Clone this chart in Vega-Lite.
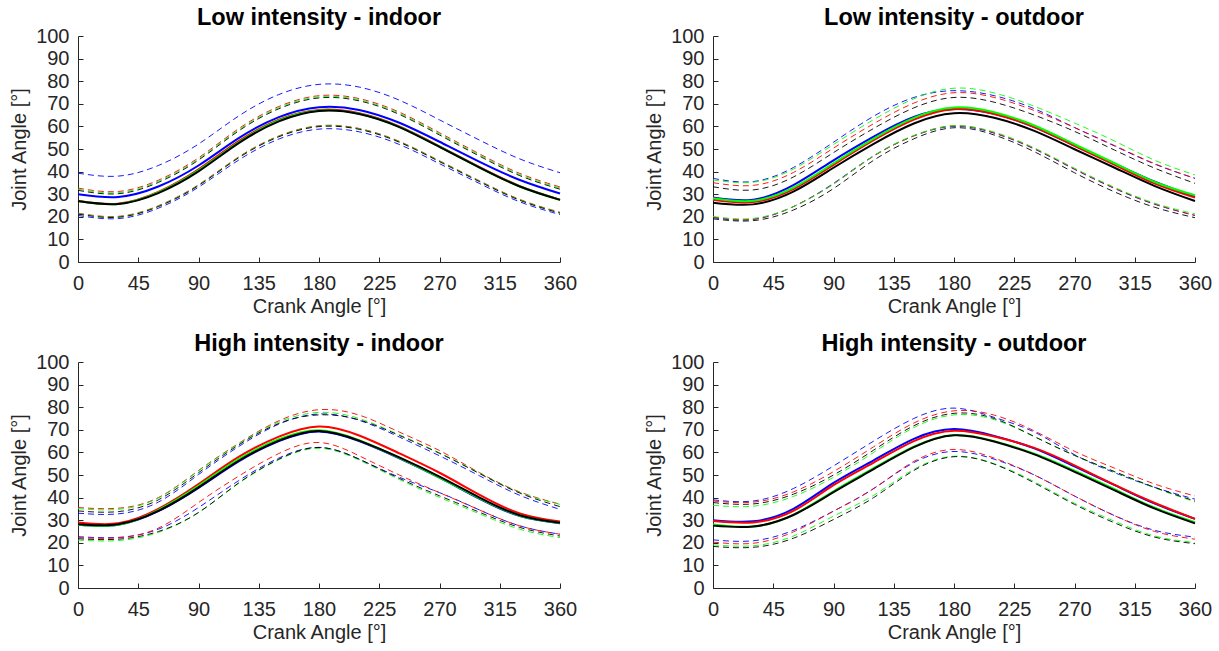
{
"$schema": "https://vega.github.io/schema/vega-lite/v6.json",
"background": "white",
"padding": {"left": 9, "top": 5, "right": 2, "bottom": 2},
"bounds": "flush",
"columns": 2,
"spacing": {"row": 100, "column": 153},
"config": {
  "view": {"stroke": null},
  "font": "Liberation Sans",
  "axis": {"grid": false, "domainColor": "#262626", "tickColor": "#262626", "labelColor": "#262626", "titleColor": "#262626", "labelFont": "Liberation Sans", "titleFont": "Liberation Sans", "labelFontSize": 20, "titleFontSize": 20, "titleFontWeight": "normal", "tickSize": -5, "domainWidth": 1, "tickWidth": 1, "labelOverlap": false, "labelFlush": false},
  "axisX": {"labelPadding": 16, "titlePadding": 3},
  "axisY": {"labelPadding": 14, "titlePadding": 6},
  "title": {"fontSize": 23.5, "fontWeight": "bold", "color": "#000000", "font": "Liberation Sans", "offset": -3}
},
"datasets": {
"li": [
{"c":"blue","a":0,"m":30.0,"u":39.3,"l":20.6},{"c":"blue","a":30,"m":28.8,"u":38.0,"l":19.2},{"c":"blue","a":60,"m":33.4,"u":42.7,"l":23.8},{"c":"blue","a":90,"m":42.7,"u":52.2,"l":33.1},{"c":"blue","a":120,"m":54.8,"u":64.6,"l":45.1},{"c":"blue","a":150,"m":64.1,"u":74.1,"l":54.4},{"c":"blue","a":180,"m":68.5,"u":78.6,"l":58.8},{"c":"blue","a":210,"m":67.3,"u":77.4,"l":57.6},{"c":"blue","a":240,"m":61.6,"u":71.6,"l":52.0},{"c":"blue","a":270,"m":53.2,"u":62.9,"l":43.5},{"c":"blue","a":300,"m":44.3,"u":53.9,"l":34.7},{"c":"blue","a":330,"m":36.3,"u":45.6,"l":26.6},{"c":"blue","a":360,"m":30.3,"u":39.5,"l":21.0},
{"c":"red","a":0,"m":27.0,"u":32.7,"l":21.6},{"c":"red","a":30,"m":25.8,"u":31.2,"l":20.2},{"c":"red","a":60,"m":31.0,"u":36.2,"l":24.9},{"c":"red","a":90,"m":41.0,"u":46.1,"l":34.2},{"c":"red","a":120,"m":53.5,"u":59.0,"l":46.5},{"c":"red","a":150,"m":63.0,"u":68.8,"l":55.8},{"c":"red","a":180,"m":67.3,"u":73.6,"l":60.3},{"c":"red","a":210,"m":65.8,"u":72.3,"l":59.1},{"c":"red","a":240,"m":60.0,"u":66.3,"l":53.4},{"c":"red","a":270,"m":51.2,"u":57.2,"l":44.8},{"c":"red","a":300,"m":42.0,"u":47.8,"l":35.9},{"c":"red","a":330,"m":33.6,"u":39.2,"l":27.7},{"c":"red","a":360,"m":27.6,"u":33.2,"l":22.0},
{"c":"green","a":0,"m":27.0,"u":32.2,"l":21.4},{"c":"green","a":30,"m":25.7,"u":30.7,"l":20.0},{"c":"green","a":60,"m":30.8,"u":35.7,"l":24.7},{"c":"green","a":90,"m":40.6,"u":45.6,"l":34.0},{"c":"green","a":120,"m":53.0,"u":58.5,"l":46.3},{"c":"green","a":150,"m":62.6,"u":68.3,"l":55.6},{"c":"green","a":180,"m":67.0,"u":73.1,"l":60.1},{"c":"green","a":210,"m":65.6,"u":71.8,"l":58.9},{"c":"green","a":240,"m":59.8,"u":65.8,"l":53.2},{"c":"green","a":270,"m":51.0,"u":56.7,"l":44.6},{"c":"green","a":300,"m":41.8,"u":47.3,"l":35.7},{"c":"green","a":330,"m":33.4,"u":38.7,"l":27.5},{"c":"green","a":360,"m":27.5,"u":32.7,"l":21.8},
{"c":"black","a":0,"m":27.0,"u":31.7,"l":21.2},{"c":"black","a":30,"m":25.7,"u":30.2,"l":19.8},{"c":"black","a":60,"m":30.5,"u":35.2,"l":24.5},{"c":"black","a":90,"m":40.1,"u":45.1,"l":33.8},{"c":"black","a":120,"m":52.6,"u":58.0,"l":46.1},{"c":"black","a":150,"m":62.2,"u":67.8,"l":55.4},{"c":"black","a":180,"m":66.8,"u":72.6,"l":59.9},{"c":"black","a":210,"m":65.5,"u":71.3,"l":58.7},{"c":"black","a":240,"m":59.7,"u":65.3,"l":53.0},{"c":"black","a":270,"m":50.9,"u":56.2,"l":44.4},{"c":"black","a":300,"m":41.8,"u":46.8,"l":35.5},{"c":"black","a":330,"m":33.4,"u":38.2,"l":27.3},{"c":"black","a":360,"m":27.5,"u":32.2,"l":21.6}
],
"lo": [
{"c":"blue","a":0,"m":28.5,"u":37.0,"l":19.6},{"c":"blue","a":30,"m":27.6,"u":35.6,"l":18.8},{"c":"blue","a":60,"m":34.0,"u":41.8,"l":24.5},{"c":"blue","a":90,"m":45.0,"u":53.0,"l":34.8},{"c":"blue","a":120,"m":55.5,"u":64.5,"l":47.0},{"c":"blue","a":150,"m":64.2,"u":72.8,"l":55.8},{"c":"blue","a":180,"m":67.7,"u":75.8,"l":60.0},{"c":"blue","a":210,"m":65.6,"u":73.6,"l":57.0},{"c":"blue","a":240,"m":59.7,"u":67.8,"l":50.0},{"c":"blue","a":270,"m":51.5,"u":59.5,"l":41.0},{"c":"blue","a":300,"m":43.5,"u":51.3,"l":32.5},{"c":"blue","a":330,"m":35.5,"u":43.3,"l":25.5},{"c":"blue","a":360,"m":28.9,"u":37.0,"l":20.6},
{"c":"red","a":0,"m":27.5,"u":35.1,"l":19.9},{"c":"red","a":30,"m":26.5,"u":33.9,"l":19.0},{"c":"red","a":60,"m":32.2,"u":39.6,"l":24.5},{"c":"red","a":90,"m":43.0,"u":50.4,"l":34.5},{"c":"red","a":120,"m":53.9,"u":61.2,"l":46.8},{"c":"red","a":150,"m":63.0,"u":70.3,"l":55.8},{"c":"red","a":180,"m":67.6,"u":74.9,"l":60.3},{"c":"red","a":210,"m":65.5,"u":72.8,"l":57.2},{"c":"red","a":240,"m":59.7,"u":67.0,"l":50.2},{"c":"red","a":270,"m":51.4,"u":59.5,"l":41.2},{"c":"red","a":300,"m":43.0,"u":51.5,"l":32.7},{"c":"red","a":330,"m":34.7,"u":43.5,"l":25.7},{"c":"red","a":360,"m":28.5,"u":37.0,"l":20.6},
{"c":"green","a":0,"m":28.2,"u":36.3,"l":20.1},{"c":"green","a":30,"m":27.1,"u":35.3,"l":19.3},{"c":"green","a":60,"m":32.9,"u":41.1,"l":24.5},{"c":"green","a":90,"m":43.7,"u":52.0,"l":34.5},{"c":"green","a":120,"m":54.6,"u":63.0,"l":47.0},{"c":"green","a":150,"m":63.8,"u":72.2,"l":56.0},{"c":"green","a":180,"m":68.4,"u":76.9,"l":60.3},{"c":"green","a":210,"m":66.3,"u":74.8,"l":57.5},{"c":"green","a":240,"m":60.4,"u":68.9,"l":50.5},{"c":"green","a":270,"m":52.1,"u":61.5,"l":41.5},{"c":"green","a":300,"m":43.7,"u":53.5,"l":33.0},{"c":"green","a":330,"m":35.4,"u":45.0,"l":26.0},{"c":"green","a":360,"m":29.5,"u":38.5,"l":21.3},
{"c":"black","a":0,"m":26.2,"u":33.3,"l":19.1},{"c":"black","a":30,"m":25.5,"u":31.9,"l":18.3},{"c":"black","a":60,"m":31.1,"u":37.6,"l":23.0},{"c":"black","a":90,"m":41.7,"u":48.4,"l":32.5},{"c":"black","a":120,"m":52.3,"u":59.1,"l":45.0},{"c":"black","a":150,"m":61.3,"u":68.2,"l":54.5},{"c":"black","a":180,"m":65.8,"u":72.8,"l":59.4},{"c":"black","a":210,"m":63.8,"u":70.7,"l":56.2},{"c":"black","a":240,"m":58.0,"u":65.0,"l":48.8},{"c":"black","a":270,"m":49.9,"u":57.8,"l":39.5},{"c":"black","a":300,"m":41.7,"u":49.5,"l":31.0},{"c":"black","a":330,"m":33.6,"u":41.5,"l":24.2},{"c":"black","a":360,"m":27.0,"u":34.8,"l":19.6}
],
"hi": [
{"c":"blue","a":0,"m":28.0,"u":33.1,"l":22.7},{"c":"blue","a":30,"m":28.0,"u":32.8,"l":22.4},{"c":"blue","a":60,"m":34.0,"u":38.0,"l":26.0},{"c":"blue","a":90,"m":44.3,"u":50.2,"l":35.6},{"c":"blue","a":120,"m":56.0,"u":62.6,"l":47.5},{"c":"blue","a":150,"m":65.0,"u":72.5,"l":57.5},{"c":"blue","a":180,"m":69.3,"u":77.0,"l":62.2},{"c":"blue","a":210,"m":65.0,"u":74.2,"l":57.0},{"c":"blue","a":240,"m":57.4,"u":66.8,"l":49.0},{"c":"blue","a":270,"m":48.8,"u":58.5,"l":42.2},{"c":"blue","a":300,"m":39.4,"u":49.6,"l":34.5},{"c":"blue","a":330,"m":31.8,"u":41.0,"l":27.5},{"c":"blue","a":360,"m":28.7,"u":34.8,"l":23.8},
{"c":"red","a":0,"m":29.0,"u":35.6,"l":22.3},{"c":"red","a":30,"m":28.6,"u":35.3,"l":22.2},{"c":"red","a":60,"m":35.0,"u":40.0,"l":26.5},{"c":"red","a":90,"m":46.0,"u":52.0,"l":37.8},{"c":"red","a":120,"m":58.0,"u":64.0,"l":49.5},{"c":"red","a":150,"m":67.0,"u":74.0,"l":59.5},{"c":"red","a":180,"m":71.5,"u":78.9,"l":64.4},{"c":"red","a":210,"m":67.5,"u":76.5,"l":58.5},{"c":"red","a":240,"m":59.6,"u":69.0,"l":50.0},{"c":"red","a":270,"m":51.0,"u":60.8,"l":42.2},{"c":"red","a":300,"m":41.2,"u":51.0,"l":34.5},{"c":"red","a":330,"m":33.0,"u":42.5,"l":27.5},{"c":"red","a":360,"m":29.4,"u":37.1,"l":23.8},
{"c":"green","a":0,"m":28.0,"u":35.1,"l":21.2},{"c":"green","a":30,"m":28.0,"u":34.8,"l":21.0},{"c":"green","a":60,"m":34.5,"u":39.8,"l":24.6},{"c":"green","a":90,"m":45.2,"u":51.8,"l":33.4},{"c":"green","a":120,"m":57.0,"u":63.8,"l":46.3},{"c":"green","a":150,"m":65.8,"u":73.4,"l":56.8},{"c":"green","a":180,"m":69.8,"u":77.7,"l":61.8},{"c":"green","a":210,"m":65.4,"u":75.0,"l":56.6},{"c":"green","a":240,"m":57.6,"u":67.8,"l":48.0},{"c":"green","a":270,"m":48.9,"u":59.8,"l":40.1},{"c":"green","a":300,"m":39.7,"u":50.8,"l":32.8},{"c":"green","a":330,"m":32.0,"u":42.3,"l":26.0},{"c":"green","a":360,"m":28.8,"u":37.0,"l":22.3},
{"c":"black","a":0,"m":28.2,"u":34.1,"l":21.8},{"c":"black","a":30,"m":28.2,"u":33.8,"l":21.6},{"c":"black","a":60,"m":34.1,"u":39.0,"l":25.0},{"c":"black","a":90,"m":44.5,"u":51.0,"l":33.4},{"c":"black","a":120,"m":56.3,"u":63.3,"l":46.5},{"c":"black","a":150,"m":65.2,"u":72.8,"l":57.0},{"c":"black","a":180,"m":69.5,"u":76.6,"l":62.2},{"c":"black","a":210,"m":65.2,"u":74.4,"l":57.0},{"c":"black","a":240,"m":57.8,"u":67.5,"l":48.5},{"c":"black","a":270,"m":49.3,"u":59.6,"l":40.8},{"c":"black","a":300,"m":40.0,"u":50.6,"l":33.5},{"c":"black","a":330,"m":32.2,"u":42.0,"l":26.8},{"c":"black","a":360,"m":28.9,"u":36.0,"l":23.0}
],
"ho": [
{"c":"blue","a":0,"m":30.0,"u":39.0,"l":21.3},{"c":"blue","a":30,"m":29.5,"u":38.5,"l":20.9},{"c":"blue","a":60,"m":35.0,"u":44.0,"l":25.5},{"c":"blue","a":90,"m":46.5,"u":54.0,"l":34.0},{"c":"blue","a":120,"m":56.5,"u":65.0,"l":44.0},{"c":"blue","a":150,"m":66.0,"u":75.0,"l":55.5},{"c":"blue","a":180,"m":70.3,"u":79.6,"l":60.4},{"c":"blue","a":210,"m":67.3,"u":75.5,"l":57.0},{"c":"blue","a":240,"m":61.8,"u":69.0,"l":50.0},{"c":"blue","a":270,"m":53.8,"u":59.0,"l":40.7},{"c":"blue","a":300,"m":45.5,"u":51.0,"l":32.0},{"c":"blue","a":330,"m":37.3,"u":44.5,"l":25.5},{"c":"blue","a":360,"m":30.6,"u":39.3,"l":22.5},
{"c":"red","a":0,"m":29.6,"u":38.5,"l":20.3},{"c":"red","a":30,"m":29.0,"u":38.0,"l":19.8},{"c":"red","a":60,"m":34.1,"u":42.5,"l":24.8},{"c":"red","a":90,"m":45.5,"u":51.5,"l":34.0},{"c":"red","a":120,"m":55.5,"u":62.5,"l":44.0},{"c":"red","a":150,"m":65.0,"u":73.0,"l":56.0},{"c":"red","a":180,"m":69.6,"u":78.4,"l":61.3},{"c":"red","a":210,"m":67.0,"u":76.5,"l":57.5},{"c":"red","a":240,"m":62.0,"u":69.5,"l":50.0},{"c":"red","a":270,"m":54.3,"u":60.5,"l":40.7},{"c":"red","a":300,"m":45.6,"u":53.0,"l":32.0},{"c":"red","a":330,"m":37.6,"u":46.0,"l":25.0},{"c":"red","a":360,"m":30.6,"u":40.7,"l":21.6},
{"c":"green","a":0,"m":28.1,"u":36.6,"l":19.1},{"c":"green","a":30,"m":27.2,"u":36.2,"l":18.7},{"c":"green","a":60,"m":32.4,"u":40.5,"l":23.0},{"c":"green","a":90,"m":42.8,"u":49.0,"l":31.8},{"c":"green","a":120,"m":53.0,"u":60.0,"l":41.0},{"c":"green","a":150,"m":62.5,"u":71.0,"l":52.5},{"c":"green","a":180,"m":67.7,"u":76.6,"l":58.3},{"c":"green","a":210,"m":65.0,"u":74.5,"l":55.0},{"c":"green","a":240,"m":59.4,"u":67.0,"l":47.0},{"c":"green","a":270,"m":51.9,"u":58.7,"l":37.5},{"c":"green","a":300,"m":43.7,"u":51.3,"l":29.5},{"c":"green","a":330,"m":35.5,"u":44.3,"l":23.0},{"c":"green","a":360,"m":29.1,"u":38.1,"l":20.1},
{"c":"black","a":0,"m":27.6,"u":37.8,"l":18.4},{"c":"black","a":30,"m":27.2,"u":37.2,"l":18.0},{"c":"black","a":60,"m":32.3,"u":41.5,"l":22.0},{"c":"black","a":90,"m":42.4,"u":50.0,"l":30.3},{"c":"black","a":120,"m":52.6,"u":61.0,"l":40.0},{"c":"black","a":150,"m":62.3,"u":71.8,"l":52.0},{"c":"black","a":180,"m":67.6,"u":77.3,"l":58.1},{"c":"black","a":210,"m":64.8,"u":75.0,"l":54.8},{"c":"black","a":240,"m":59.1,"u":67.0,"l":46.5},{"c":"black","a":270,"m":51.4,"u":58.7,"l":37.0},{"c":"black","a":300,"m":43.2,"u":51.5,"l":28.8},{"c":"black","a":330,"m":35.1,"u":44.5,"l":22.5},{"c":"black","a":360,"m":28.6,"u":38.5,"l":19.6}
]
},
"concat": [
{"title": "Low intensity - indoor", "width": 482, "height": 226, "data": {"name": "li"},
 "transform": [{"fold": ["m", "u", "l"], "as": ["stat", "val"]}],
 "encoding": {
  "x": {"field": "a", "type": "quantitative", "scale": {"domain": [0, 360], "nice": false}, "axis": {"values": [0,45,90,135,180,225,270,315,360], "title": "Crank Angle [°]"}},
  "y": {"field": "val", "type": "quantitative", "scale": {"domain": [0, 100], "nice": false}, "axis": {"values": [0,10,20,30,40,50,60,70,80,90,100], "title": "Joint Angle [°]"}},
  "color": {"field": "c", "type": "nominal", "scale": {"domain": ["blue","red","green","black"], "range": ["#0000ff","#ff0000","#00ff00","#000000"]}, "legend": null},
  "detail": {"field": "stat"}
 },
 "layer": [
  {"transform": [{"filter": "datum.stat !== 'm'"}], "mark": {"type": "line", "interpolate": "natural", "strokeWidth": 0.9, "strokeDash": [6, 4]}},
  {"transform": [{"filter": "datum.stat === 'm'"}], "mark": {"type": "line", "interpolate": "natural", "strokeWidth": 2}}
 ]},
{"title": "Low intensity - outdoor", "width": 482, "height": 226, "data": {"name": "lo"},
 "transform": [{"fold": ["m", "u", "l"], "as": ["stat", "val"]}],
 "encoding": {
  "x": {"field": "a", "type": "quantitative", "scale": {"domain": [0, 360], "nice": false}, "axis": {"values": [0,45,90,135,180,225,270,315,360], "title": "Crank Angle [°]"}},
  "y": {"field": "val", "type": "quantitative", "scale": {"domain": [0, 100], "nice": false}, "axis": {"values": [0,10,20,30,40,50,60,70,80,90,100], "title": "Joint Angle [°]"}},
  "color": {"field": "c", "type": "nominal", "scale": {"domain": ["blue","red","green","black"], "range": ["#0000ff","#ff0000","#00ff00","#000000"]}, "legend": null},
  "detail": {"field": "stat"}
 },
 "layer": [
  {"transform": [{"filter": "datum.stat !== 'm'"}], "mark": {"type": "line", "interpolate": "natural", "strokeWidth": 0.9, "strokeDash": [6, 4]}},
  {"transform": [{"filter": "datum.stat === 'm'"}], "mark": {"type": "line", "interpolate": "natural", "strokeWidth": 2}}
 ]},
{"title": "High intensity - indoor", "width": 482, "height": 226, "data": {"name": "hi"},
 "transform": [{"fold": ["m", "u", "l"], "as": ["stat", "val"]}],
 "encoding": {
  "x": {"field": "a", "type": "quantitative", "scale": {"domain": [0, 360], "nice": false}, "axis": {"values": [0,45,90,135,180,225,270,315,360], "title": "Crank Angle [°]"}},
  "y": {"field": "val", "type": "quantitative", "scale": {"domain": [0, 100], "nice": false}, "axis": {"values": [0,10,20,30,40,50,60,70,80,90,100], "title": "Joint Angle [°]"}},
  "color": {"field": "c", "type": "nominal", "scale": {"domain": ["blue","red","green","black"], "range": ["#0000ff","#ff0000","#00ff00","#000000"]}, "legend": null},
  "detail": {"field": "stat"}
 },
 "layer": [
  {"transform": [{"filter": "datum.stat !== 'm'"}], "mark": {"type": "line", "interpolate": "natural", "strokeWidth": 0.9, "strokeDash": [6, 4]}},
  {"transform": [{"filter": "datum.stat === 'm'"}], "mark": {"type": "line", "interpolate": "natural", "strokeWidth": 2}}
 ]},
{"title": "High intensity - outdoor", "width": 482, "height": 226, "data": {"name": "ho"},
 "transform": [{"fold": ["m", "u", "l"], "as": ["stat", "val"]}],
 "encoding": {
  "x": {"field": "a", "type": "quantitative", "scale": {"domain": [0, 360], "nice": false}, "axis": {"values": [0,45,90,135,180,225,270,315,360], "title": "Crank Angle [°]"}},
  "y": {"field": "val", "type": "quantitative", "scale": {"domain": [0, 100], "nice": false}, "axis": {"values": [0,10,20,30,40,50,60,70,80,90,100], "title": "Joint Angle [°]"}},
  "color": {"field": "c", "type": "nominal", "scale": {"domain": ["blue","red","green","black"], "range": ["#0000ff","#ff0000","#00ff00","#000000"]}, "legend": null},
  "detail": {"field": "stat"}
 },
 "layer": [
  {"transform": [{"filter": "datum.stat !== 'm'"}], "mark": {"type": "line", "interpolate": "natural", "strokeWidth": 0.9, "strokeDash": [6, 4]}},
  {"transform": [{"filter": "datum.stat === 'm'"}], "mark": {"type": "line", "interpolate": "natural", "strokeWidth": 2}}
 ]}
]
}
